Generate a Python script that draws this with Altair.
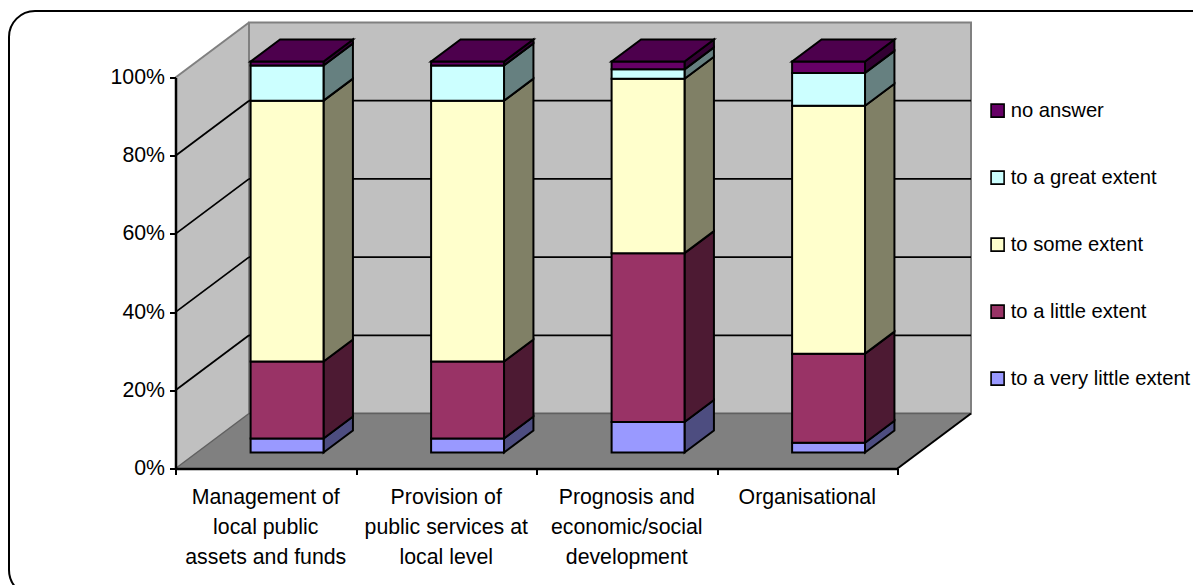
import altair as alt
import pandas as pd

# ---- values ----
categories = ["Management of|local public|assets and funds",
              "Provision of|public services at|local level",
              "Prognosis and|economic/social|development",
              "Organisational"]
series = ["to a very little extent", "to a little extent", "to some extent",
          "to a great extent", "no answer"]
very_little = [3.6, 3.6, 7.8, 2.5]
little = [19.7, 19.7, 43.2, 22.8]
some = [66.7, 66.7, 44.6, 63.4]
great = [9.0, 9.0, 2.4, 8.4]
no_answer = [1.0, 1.0, 2.0, 2.9]
values = [very_little, little, some, great, no_answer]

front_colors = ["#9999FF", "#993366", "#FFFFCC", "#CCFFFF", "#660066"]
side_colors = ["#4D4D80", "#4D1A33", "#808066", "#668080", "#330033"]
top_color = "#4D004D"
pct_ticks = [0, 20, 40, 60, 80, 100]
grid_ticks = [20, 40, 60, 80]
cat_ticks = [0, 1, 2, 3, 4]

# ---- oblique projection in data units ----
FW, FH = 722, 391
N = len(categories)
DX = 73.5 / (FW / N)      # full chart depth, in category units
DY = 55 / (FH / 100)      # full chart depth, in percent units
D0, D1 = 0.29, 0.69       # bar front and back depth
GAP = 0.298               # bar inset in its category slot
FONT = "Liberation Sans"
FS = 21.3

xs = alt.Scale(domain=[0, N], nice=False, zero=False)
ys = alt.Scale(domain=[0, 100], nice=False, zero=False)
x_axis = alt.Axis(values=cat_ticks, labels=False, grid=False, tickColor="black",
                  tickSize=6, tickWidth=2, domainColor="black", domainWidth=2.5,
                  zindex=1, title=None)
y_axis = alt.Axis(values=pct_ticks, labelExpr="datum.value + '%'", grid=False,
                  tickColor="black", tickSize=6, tickWidth=2, domainColor="black",
                  domainWidth=2.5, labelFont=FONT, labelFontSize=FS,
                  labelColor="black", labelPadding=5, zindex=1, title=None)


def X(f="x"):
    return alt.X(f"{f}:Q", scale=xs, axis=x_axis)


def Y(f="y"):
    return alt.Y(f"{f}:Q", scale=ys, axis=y_axis, stack=None)


def seg_chart(rows, color, width):
    return alt.Chart(pd.DataFrame(rows)).mark_rule(color=color, strokeWidth=width).encode(
        x=X("x"), x2="x2:Q", y=Y("y"), y2="y2:Q")


# walls and floor
back = alt.Chart(pd.DataFrame([dict(x=DX, x2=N + DX, y=DY, y2=100 + DY)])).mark_rect(
    fill="#C0C0C0", stroke="#808080", strokeWidth=2).encode(x=X(), x2="x2:Q", y=Y(), y2="y2:Q")
side = alt.Chart(pd.DataFrame([dict(x=0, y=0, y2=100), dict(x=DX, y=DY, y2=100 + DY)])).mark_area(
    fill="#C0C0C0", opacity=1).encode(x=X(), y=Y(), y2="y2:Q")
side_top = seg_chart([dict(x=0, x2=DX, y=100, y2=100 + DY)], "#808080", 2)
floor = alt.Chart(pd.DataFrame([dict(y=0, x=0, x2=N), dict(y=DY, x=DX, x2=N + DX)])).mark_area(
    fill="#808080", orient="horizontal", opacity=1).encode(x=X(), x2="x2:Q", y=Y())
floor_edges = seg_chart([dict(x=0, x2=DX, y=0, y2=DY), dict(x=DX, x2=N + DX, y=DY, y2=DY)], "#606060", 1.5)
floor_front = seg_chart([dict(x=N, x2=N + DX, y=0, y2=DY)], "black", 2)
grid_rows = []
for g in grid_ticks:
    grid_rows.append(dict(x=0, x2=DX, y=g, y2=g + DY))
    grid_rows.append(dict(x=DX, x2=N + DX, y=g + DY, y2=g + DY))
grid = seg_chart(grid_rows, "black", 1.8)

# bars
front_rows, side_layers, top_rows = [], [], []
for s, name in enumerate(series):
    rows = []
    for c in range(N):
        base = sum(values[k][c] for k in range(s))
        tip = base + values[s][c]
        xl, xr = c + GAP, c + 1 - GAP
        front_rows.append(dict(series=name, x=xl + D0 * DX, x2=xr + D0 * DX,
                               y=base + D0 * DY, y2=tip + D0 * DY))
        for d in (D0, D1):
            rows.append(dict(bar=c, x=xr + d * DX, y=base + d * DY, y2=tip + d * DY))
    side_layers.append(
        alt.Chart(pd.DataFrame(rows)).mark_area(
            fill=side_colors[s], stroke="black", strokeWidth=2, opacity=1).encode(
            x=X(), y=Y(), y2="y2:Q", detail="bar:N"))
for c in range(N):
    xl, xr = c + GAP, c + 1 - GAP
    for d in (D0, D1):
        top_rows.append(dict(bar=c, y=100 + d * DY, x=xl + d * DX, x2=xr + d * DX))
top = alt.Chart(pd.DataFrame(top_rows)).mark_area(
    fill=top_color, stroke="black", strokeWidth=2, orient="horizontal", opacity=1).encode(
    x=X(), x2="x2:Q", y=Y(), detail="bar:N")

fronts = alt.Chart(pd.DataFrame(front_rows)).mark_rect(stroke="black", strokeWidth=2).encode(
    x=X(), x2="x2:Q", y=Y(), y2="y2:Q",
    fill=alt.Fill("series:N",
                  scale=alt.Scale(domain=series[::-1], range=front_colors[::-1]),
                  legend=alt.Legend(
                      orient="none", legendX=812, legendY=23, title=None, padding=0,
                      symbolType="square", symbolSize=170, symbolStrokeColor="black",
                      symbolStrokeWidth=1.6, labelFont=FONT, labelFontSize=20.2,
                      labelColor="black", labelLimit=400, labelOffset=3,
                      rowPadding=46, columnPadding=0)))

cat_labels = alt.Chart(pd.DataFrame(dict(x=[i + 0.5 for i in range(N)], y=[0] * N, t=categories))).mark_text(
    font=FONT, fontSize=FS, lineBreak="|", lineHeight=30, baseline="top", align="center",
    dy=18, color="black").encode(x=X(), y=Y(), text="t:N")

frame = alt.Chart(pd.DataFrame(dict(a=[0]))).mark_rect(
    fill="transparent", stroke="black", strokeWidth=2, cornerRadius=26).encode(
    x=alt.value(-166.5), x2=alt.value(1050), y=alt.value(-66.5), y2=alt.value(518.5))

chart = alt.layer(frame, side, back, floor, floor_edges, side_top, grid, floor_front,
                  *side_layers, fronts, top, cat_labels).properties(
    width=FW, height=FH,
    padding=dict(left=167.5, top=69.5, right=295.5, bottom=116.5),
    autosize=alt.AutoSizeParams(type="none"),
    background="white",
).configure_view(stroke=None)

chart.save("out.html", embed_options={"renderer": "svg", "actions": False})
